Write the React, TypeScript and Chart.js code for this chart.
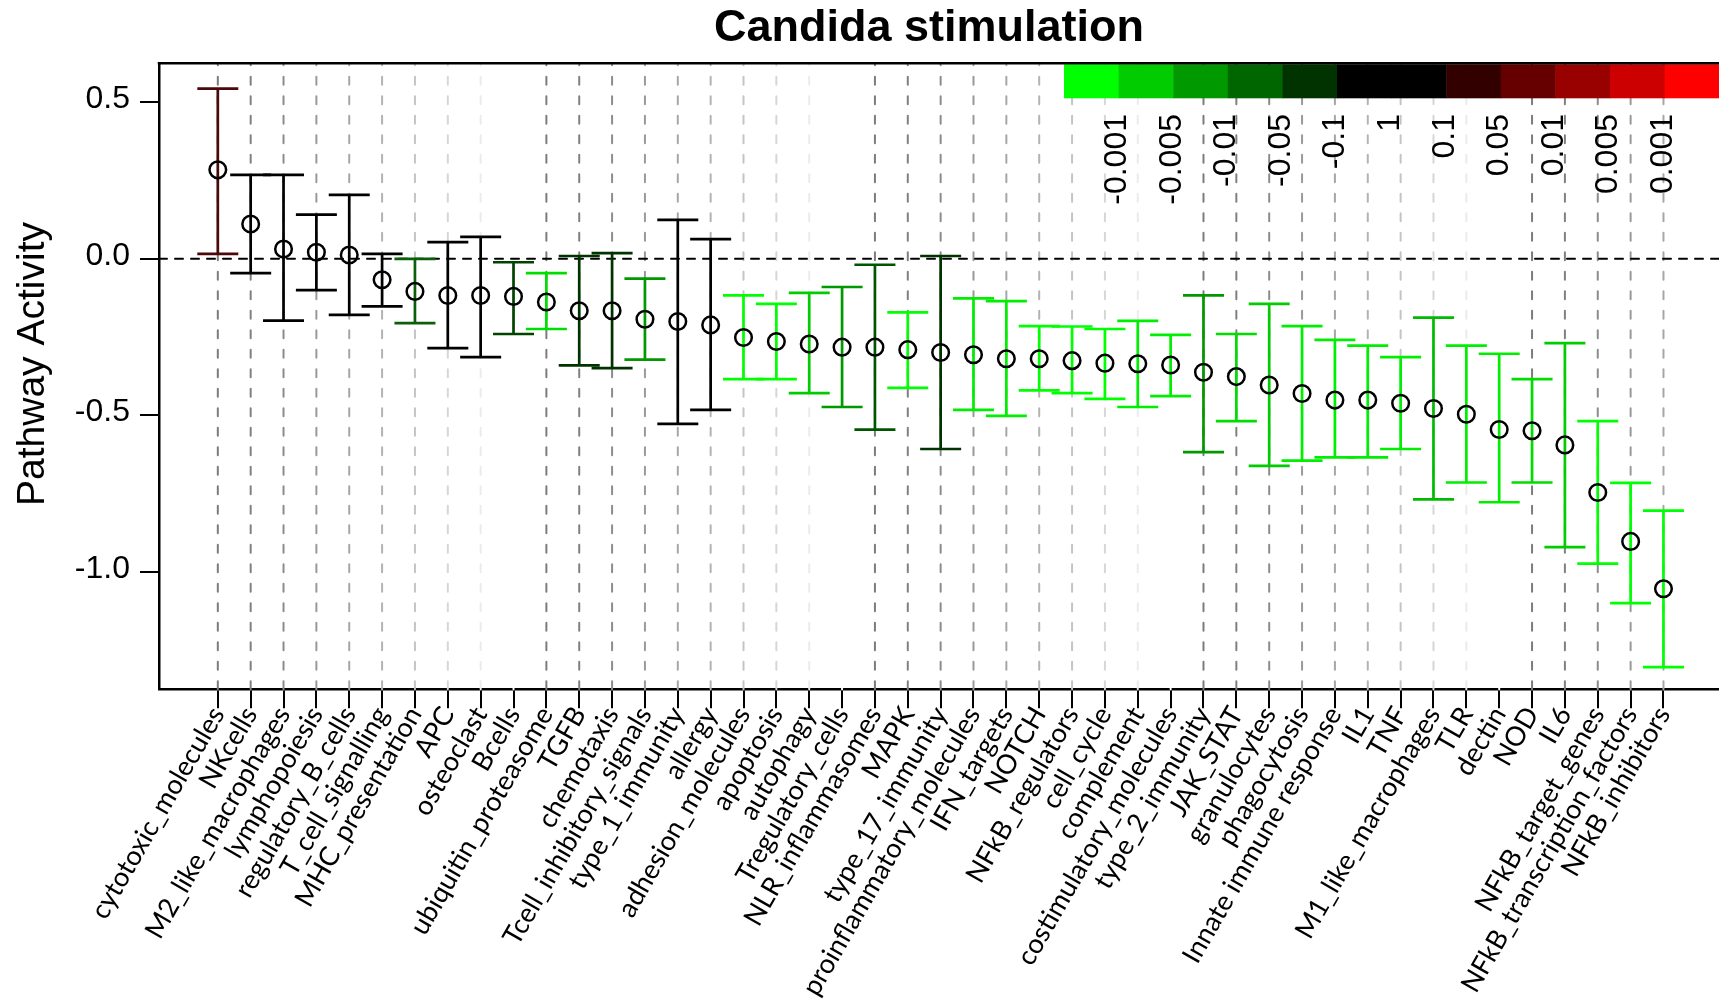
import React, { useEffect, useRef } from 'react';
import { Chart, registerables } from 'chart.js';

Chart.register(...registerables);

const chartTitle = 'Candida stimulation';
const yAxisTitle = 'Pathway Activity';

const categories = [
  'cytotoxic_molecules', 'NKcells', 'M2_like_macrophages', 'lymphopoiesis', 'regulatory_B_cells',
  'T_cell_signalling', 'MHC_presentation', 'APC', 'osteoclast', 'Bcells',
  'ubiquitin_proteasome', 'TGFB', 'chemotaxis', 'Tcell_inhibitory_signals', 'type_1_immunity',
  'allergy', 'adhesion_molecules', 'apoptosis', 'autophagy', 'Tregulatory_cells',
  'NLR_inflammasomes', 'MAPK', 'type_17_immunity', 'proinflammatory_molecules', 'IFN_targets',
  'NOTCH', 'NFkB_regulators', 'cell_cycle', 'complement', 'costimulatory_molecules',
  'type_2_immunity', 'JAK_STAT', 'granulocytes', 'phagocytosis', 'Innate immune response',
  'IL1', 'TNF', 'M1_like_macrophages', 'TLR', 'dectin',
  'NOD', 'IL6', 'NFkB_target_genes', 'NFkB_transcription_factors', 'NFkB_inhibitors',
];

const activity = [
  0.284, 0.111, 0.031, 0.021, 0.012, -0.067, -0.104, -0.117, -0.117, -0.12,
  -0.138, -0.166, -0.166, -0.193, -0.2, -0.211, -0.251, -0.264, -0.272, -0.282,
  -0.282, -0.29, -0.299, -0.306, -0.319, -0.319, -0.325, -0.333, -0.335, -0.339,
  -0.362, -0.376, -0.403, -0.43, -0.451, -0.451, -0.461, -0.478, -0.496, -0.545,
  -0.549, -0.594, -0.746, -0.902, -1.053,
];

const upperCI = [
  0.543, 0.268, 0.268, 0.141, 0.204, 0.016, 0.0, 0.053, 0.07, -0.011,
  -0.046, 0.009, 0.018, -0.063, 0.124, 0.063, -0.117, -0.144, -0.109, -0.09,
  -0.019, -0.171, 0.009, -0.126, -0.135, -0.215, -0.216, -0.224, -0.198, -0.243,
  -0.117, -0.24, -0.144, -0.215, -0.259, -0.277, -0.314, -0.188, -0.277, -0.303,
  -0.384, -0.269, -0.518, -0.715, -0.804,
];

const lowerCI = [
  0.016, -0.046, -0.197, -0.1, -0.179, -0.152, -0.205, -0.285, -0.314, -0.24,
  -0.224, -0.34, -0.349, -0.322, -0.527, -0.482, -0.384, -0.384, -0.429, -0.473,
  -0.545, -0.412, -0.607, -0.482, -0.501, -0.42, -0.429, -0.447, -0.473, -0.438,
  -0.617, -0.518, -0.661, -0.644, -0.634, -0.634, -0.607, -0.768, -0.714, -0.777,
  -0.714, -0.92, -0.973, -1.099, -1.303,
];

const barColors = [
  '#4a0a0a', '#000000', '#000000', '#000000', '#000000', '#000000', '#0a5f0a', '#000000', '#000000', '#004400',
  '#00dd00', '#003300', '#003300', '#009900', '#000000', '#000000', '#00ff00', '#00ff00', '#00cc00', '#009900',
  '#005500', '#00ff00', '#003300', '#00ee00', '#00ee00', '#00ff00', '#00ff00', '#00ff00', '#00ee00', '#00ee00',
  '#009900', '#00dd00', '#00cc00', '#00ee00', '#00ee00', '#00ee00', '#00ee00', '#00bb00', '#00ee00', '#00ee00',
  '#00dd00', '#00cc00', '#00ff00', '#00ff00', '#00ff00',
];

const gridGreys = ['#7c7c7c', '#808080', '#8c8c8c', '#999999', '#a6a6a6', '#b3b3b3', '#c4c4c4', '#d6d6d6', '#ebebeb', '#ffffff'];

const yTickValues = [-1.0, -0.5, 0.0, 0.5];

const keyColors = ['#00ff00', '#00cc00', '#009900', '#006600', '#003300', '#000000', '#000000', '#330000', '#660000', '#990000', '#cc0000', '#ff0000'];
const keyLabels = ['-0.001', '-0.005', '-0.01', '-0.05', '-0.1', '1', '0.1', '0.05', '0.01', '0.005', '0.001'];

const SANS = '"Liberation Sans", Arial, Helvetica, sans-serif';

const overlayPlugin = {
  id: 'pathwayOverlay',
  beforeDatasetsDraw(chart: any) {
    const { ctx, chartArea: ca, scales } = chart;
    const xs = scales.x;
    const ys = scales.y;
    ctx.save();
    // vertical dashed guide lines
    ctx.lineWidth = 2;
    ctx.lineCap = 'round';
    ctx.setLineDash([8, 11.5]);
    categories.forEach((_, i) => {
      const px = xs.getPixelForValue(i + 1);
      ctx.strokeStyle = gridGreys[i % gridGreys.length];
      ctx.beginPath();
      ctx.moveTo(px, ca.bottom);
      ctx.lineTo(px, ca.top);
      ctx.stroke();
    });
    // zero line
    const y0 = ys.getPixelForValue(0);
    ctx.strokeStyle = '#000';
    ctx.lineWidth = 2;
    ctx.setLineDash([8, 8]);
    ctx.beginPath();
    ctx.moveTo(ca.left, y0);
    ctx.lineTo(ca.right, y0);
    ctx.stroke();
    // error bars
    ctx.setLineDash([]);
    ctx.lineCap = 'butt';
    ctx.lineWidth = 2.7;
    const half = 20.5;
    categories.forEach((_, i) => {
      const px = xs.getPixelForValue(i + 1);
      const yu = ys.getPixelForValue(upperCI[i]);
      const yl = ys.getPixelForValue(lowerCI[i]);
      ctx.strokeStyle = barColors[i];
      ctx.beginPath();
      ctx.moveTo(px, yu);
      ctx.lineTo(px, yl);
      ctx.moveTo(px - half, yu);
      ctx.lineTo(px + half, yu);
      ctx.moveTo(px - half, yl);
      ctx.lineTo(px + half, yl);
      ctx.stroke();
    });
    ctx.restore();
  },
  afterDraw(chart: any) {
    const { ctx, chartArea: ca } = chart;
    ctx.save();
    // colour key
    const keyLeft = 1064;
    const cellW = 54.6;
    const keyTop = ca.top + 1;
    const keyBottom = 98.3;
    keyColors.forEach((c, k) => {
      ctx.fillStyle = c;
      ctx.fillRect(keyLeft + k * cellW, keyTop, cellW + 0.5, keyBottom - keyTop);
    });
    ctx.fillStyle = '#000';
    ctx.font = `32px ${SANS}`;
    ctx.textAlign = 'right';
    ctx.textBaseline = 'middle';
    keyLabels.forEach((lab, k) => {
      const bx = keyLeft + (k + 1) * cellW - 1.5;
      ctx.save();
      ctx.translate(bx, 114);
      ctx.rotate(-Math.PI / 2);
      ctx.fillText(lab, 0, 0);
      ctx.restore();
    });
    // top border of the box
    ctx.strokeStyle = '#000';
    ctx.lineWidth = 2.5;
    ctx.beginPath();
    ctx.moveTo(ca.left - 1.25, ca.top);
    ctx.lineTo(ca.right + 5, ca.top);
    ctx.stroke();
    // title
    ctx.fillStyle = '#000';
    ctx.font = `bold 45px ${SANS}`;
    ctx.textAlign = 'center';
    ctx.textBaseline = 'alphabetic';
    ctx.fillText(chartTitle, 929, 41);
    // y axis title
    ctx.font = `39px ${SANS}`;
    ctx.save();
    ctx.translate(44, 364);
    ctx.rotate(-Math.PI / 2);
    ctx.fillText(yAxisTitle, 0, 0);
    ctx.restore();
    ctx.restore();
  },
};

export default function App() {
  const canvasRef = useRef<HTMLCanvasElement | null>(null);

  useEffect(() => {
    const canvas = canvasRef.current;
    if (!canvas) return;
    const chart = new Chart(canvas, {
      type: 'scatter',
      data: {
        datasets: [
          {
            data: activity.map((v, i) => ({ x: i + 1, y: v })),
            pointRadius: 8.3,
            pointHoverRadius: 8.3,
            pointBorderWidth: 2.5,
            pointBorderColor: '#000',
            pointBackgroundColor: 'rgba(0,0,0,0)',
            showLine: false,
          } as any,
        ],
      },
      options: {
        responsive: false,
        animation: false,
        devicePixelRatio: 1,
        events: [],
        layout: { autoPadding: false, padding: { top: 63.3, left: 0, right: 0, bottom: 0 } },
        plugins: {
          legend: { display: false },
          tooltip: { enabled: false },
          title: { display: false },
        },
        scales: {
          x: {
            type: 'linear',
            min: -0.79,
            max: 46.69,
            afterBuildTicks: (s: any) => {
              s.ticks = categories.map((_, i) => ({ value: i + 1 }));
            },
            afterFit: (s: any) => {
              s.height = 315.7;
            },
            grid: { drawOnChartArea: false, drawTicks: true, tickLength: 19, color: '#000', lineWidth: 2 },
            border: { display: true, color: '#000', width: 2.5 },
            ticks: {
              autoSkip: false,
              minRotation: 60,
              maxRotation: 60,
              padding: -7,
              color: '#000',
              font: { family: 'Lato', size: 27 },
              callback: (v: any) => categories[Math.round(v) - 1] ?? '',
            },
          },
          y: {
            type: 'linear',
            min: -1.374,
            max: 0.624,
            afterBuildTicks: (s: any) => {
              s.ticks = yTickValues.map((v) => ({ value: v }));
            },
            afterFit: (s: any) => {
              s.width = 159;
            },
            grid: { drawOnChartArea: false, drawTicks: true, tickLength: 19, color: '#000', lineWidth: 2 },
            border: { display: true, color: '#000', width: 2.5 },
            ticks: {
              padding: 10,
              labelOffset: -3,
              color: '#000',
              font: { family: '"Liberation Sans", Arial, sans-serif', size: 32 },
              callback: (v: any) => Number(v).toFixed(1),
            },
          },
        },
      } as any,
      plugins: [overlayPlugin],
    });
    return () => chart.destroy();
  }, []);

  return (
    <div style={{ position: 'fixed', left: 0, top: 0, width: 1719, height: 1005, background: '#fff' }}>
      <canvas ref={canvasRef} width={1719} height={1005} style={{ display: 'block', width: 1719, height: 1005 }} />
    </div>
  );
}
